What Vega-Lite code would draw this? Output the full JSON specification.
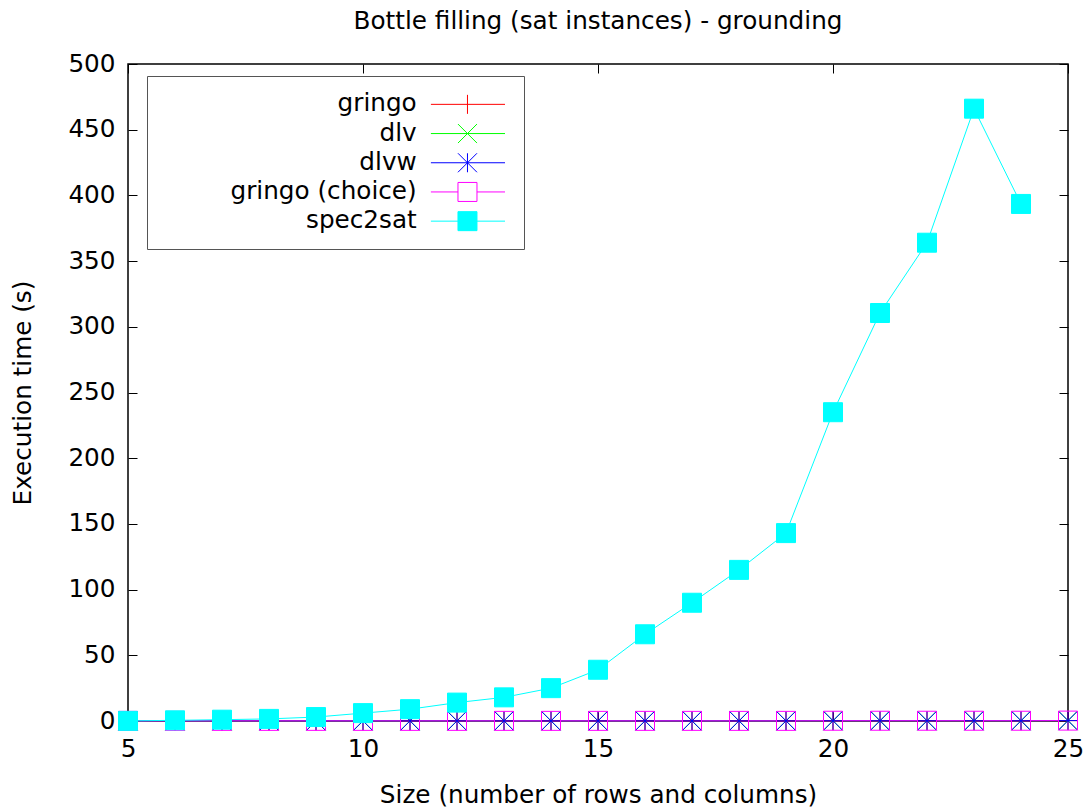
{
  "$schema": "https://vega.github.io/schema/vega-lite/v6.json",
  "autosize": "none",
  "width": 940,
  "height": 657,
  "padding": {"left": 128, "top": 64, "right": 24, "bottom": 90},
  "background": "white",
  "title": {"text": "Bottle filling (sat instances) - grounding", "font": "DejaVu Sans", "fontSize": 24.7, "fontWeight": "normal", "color": "black", "offset": 17, "anchor": "middle"},
  "config": {
    "view": {"stroke": "black", "strokeWidth": 1.5},
    "axis": {"grid": false, "domain": false, "labelFlush": false, "labelFont": "DejaVu Sans", "labelFontSize": 24.7, "labelColor": "black", "titleFont": "DejaVu Sans", "titleFontSize": 24.7, "titleFontWeight": "normal", "titleColor": "black", "tickColor": "black", "tickSize": -9, "tickWidth": 1}
  },
  "resolve": {"axis": {"x": "independent", "y": "independent"}},
  "data": {"values": [
    {"size": 5, "series": "gringo", "time": 0.1}, {"size": 6, "series": "gringo", "time": 0.1}, {"size": 7, "series": "gringo", "time": 0.1}, {"size": 8, "series": "gringo", "time": 0.1}, {"size": 9, "series": "gringo", "time": 0.1}, {"size": 10, "series": "gringo", "time": 0.1}, {"size": 11, "series": "gringo", "time": 0.1}, {"size": 12, "series": "gringo", "time": 0.1}, {"size": 13, "series": "gringo", "time": 0.1}, {"size": 14, "series": "gringo", "time": 0.1}, {"size": 15, "series": "gringo", "time": 0.1}, {"size": 16, "series": "gringo", "time": 0.1}, {"size": 17, "series": "gringo", "time": 0.1}, {"size": 18, "series": "gringo", "time": 0.1}, {"size": 19, "series": "gringo", "time": 0.1}, {"size": 20, "series": "gringo", "time": 0.2}, {"size": 21, "series": "gringo", "time": 0.2}, {"size": 22, "series": "gringo", "time": 0.2}, {"size": 23, "series": "gringo", "time": 0.2}, {"size": 24, "series": "gringo", "time": 0.2}, {"size": 25, "series": "gringo", "time": 0.3},
    {"size": 5, "series": "dlv", "time": 0.1}, {"size": 6, "series": "dlv", "time": 0.1}, {"size": 7, "series": "dlv", "time": 0.1}, {"size": 8, "series": "dlv", "time": 0.1}, {"size": 9, "series": "dlv", "time": 0.1}, {"size": 10, "series": "dlv", "time": 0.1}, {"size": 11, "series": "dlv", "time": 0.1}, {"size": 12, "series": "dlv", "time": 0.1}, {"size": 13, "series": "dlv", "time": 0.1}, {"size": 14, "series": "dlv", "time": 0.1}, {"size": 15, "series": "dlv", "time": 0.1}, {"size": 16, "series": "dlv", "time": 0.1}, {"size": 17, "series": "dlv", "time": 0.1}, {"size": 18, "series": "dlv", "time": 0.1}, {"size": 19, "series": "dlv", "time": 0.1}, {"size": 20, "series": "dlv", "time": 0.2}, {"size": 21, "series": "dlv", "time": 0.2}, {"size": 22, "series": "dlv", "time": 0.2}, {"size": 23, "series": "dlv", "time": 0.2}, {"size": 24, "series": "dlv", "time": 0.2}, {"size": 25, "series": "dlv", "time": 0.3},
    {"size": 5, "series": "dlvw", "time": 0.1}, {"size": 6, "series": "dlvw", "time": 0.1}, {"size": 7, "series": "dlvw", "time": 0.1}, {"size": 8, "series": "dlvw", "time": 0.1}, {"size": 9, "series": "dlvw", "time": 0.1}, {"size": 10, "series": "dlvw", "time": 0.1}, {"size": 11, "series": "dlvw", "time": 0.1}, {"size": 12, "series": "dlvw", "time": 0.1}, {"size": 13, "series": "dlvw", "time": 0.1}, {"size": 14, "series": "dlvw", "time": 0.1}, {"size": 15, "series": "dlvw", "time": 0.1}, {"size": 16, "series": "dlvw", "time": 0.1}, {"size": 17, "series": "dlvw", "time": 0.1}, {"size": 18, "series": "dlvw", "time": 0.1}, {"size": 19, "series": "dlvw", "time": 0.1}, {"size": 20, "series": "dlvw", "time": 0.2}, {"size": 21, "series": "dlvw", "time": 0.2}, {"size": 22, "series": "dlvw", "time": 0.2}, {"size": 23, "series": "dlvw", "time": 0.2}, {"size": 24, "series": "dlvw", "time": 0.2}, {"size": 25, "series": "dlvw", "time": 0.3},
    {"size": 5, "series": "gringo (choice)", "time": 0.1}, {"size": 6, "series": "gringo (choice)", "time": 0.1}, {"size": 7, "series": "gringo (choice)", "time": 0.1}, {"size": 8, "series": "gringo (choice)", "time": 0.1}, {"size": 9, "series": "gringo (choice)", "time": 0.1}, {"size": 10, "series": "gringo (choice)", "time": 0.1}, {"size": 11, "series": "gringo (choice)", "time": 0.1}, {"size": 12, "series": "gringo (choice)", "time": 0.1}, {"size": 13, "series": "gringo (choice)", "time": 0.1}, {"size": 14, "series": "gringo (choice)", "time": 0.1}, {"size": 15, "series": "gringo (choice)", "time": 0.1}, {"size": 16, "series": "gringo (choice)", "time": 0.1}, {"size": 17, "series": "gringo (choice)", "time": 0.1}, {"size": 18, "series": "gringo (choice)", "time": 0.1}, {"size": 19, "series": "gringo (choice)", "time": 0.1}, {"size": 20, "series": "gringo (choice)", "time": 0.2}, {"size": 21, "series": "gringo (choice)", "time": 0.2}, {"size": 22, "series": "gringo (choice)", "time": 0.2}, {"size": 23, "series": "gringo (choice)", "time": 0.2}, {"size": 24, "series": "gringo (choice)", "time": 0.2}, {"size": 25, "series": "gringo (choice)", "time": 0.3},
    {"size": 5, "series": "spec2sat", "time": 0.1}, {"size": 6, "series": "spec2sat", "time": 0.5}, {"size": 7, "series": "spec2sat", "time": 1}, {"size": 8, "series": "spec2sat", "time": 1.6}, {"size": 9, "series": "spec2sat", "time": 3}, {"size": 10, "series": "spec2sat", "time": 6}, {"size": 11, "series": "spec2sat", "time": 9}, {"size": 12, "series": "spec2sat", "time": 14}, {"size": 13, "series": "spec2sat", "time": 18}, {"size": 14, "series": "spec2sat", "time": 25}, {"size": 15, "series": "spec2sat", "time": 39}, {"size": 16, "series": "spec2sat", "time": 66}, {"size": 17, "series": "spec2sat", "time": 90}, {"size": 18, "series": "spec2sat", "time": 115}, {"size": 19, "series": "spec2sat", "time": 143}, {"size": 20, "series": "spec2sat", "time": 235}, {"size": 21, "series": "spec2sat", "time": 310.5}, {"size": 22, "series": "spec2sat", "time": 364}, {"size": 23, "series": "spec2sat", "time": 466}, {"size": 24, "series": "spec2sat", "time": 393.5}
  ]},
  "layer": [
    {
      "mark": {"type": "line", "strokeWidth": 1},
      "encoding": {
        "x": {"field": "size", "type": "quantitative", "scale": {"domain": [5, 25], "nice": false, "zero": false}, "axis": {"orient": "bottom", "values": [5, 10, 15, 20, 25], "title": "Size (number of rows and columns)", "labelPadding": 24, "titlePadding": 22}},
        "y": {"field": "time", "type": "quantitative", "scale": {"domain": [0, 500], "nice": false}, "axis": {"orient": "left", "values": [0, 50, 100, 150, 200, 250, 300, 350, 400, 450, 500], "title": "Execution time (s)", "labelPadding": 22, "titlePadding": 32}},
        "color": {"field": "series", "type": "nominal", "scale": {"domain": ["gringo", "dlv", "dlvw", "gringo (choice)", "spec2sat"], "range": ["#ff0000", "#00ff00", "#0000ff", "#ff00ff", "#00ffff"]},
          "legend": {
            "title": null, "orient": "none", "legendX": 19, "legendY": 12, "padding": 16, "strokeColor": "#555555",
            "labelFont": "DejaVu Sans", "labelFontSize": 24.7, "labelColor": "black", "labelAlign": "right", "labelOffset": 229, "labelLimit": 400,
            "symbolSize": 361, "rowPadding": 3.2,
            "encode": {"symbols": {"update": {
              "shape": {"signal": "datum.value === 'gringo' ? 'M-1.05,0L-1.05,0M26.9,0L34.7,0M30.75,-1L30.75,1' : datum.value === 'dlv' ? 'M-1.05,0L-1.05,0M26.9,0L34.7,0M29.75,-1L31.75,1M29.75,1L31.75,-1' : datum.value === 'dlvw' ? 'M-1.05,0L-1.05,0M26.9,0L34.7,0M30.75,-1L30.75,1M29.75,-1L31.75,1M29.75,1L31.75,-1' : 'M-1.05,0L-1.05,0M26.9,0L29.75,0M31.75,0L34.7,0M29.75,-1L31.75,-1L31.75,1L29.75,1Z'"},
              "fill": {"signal": "datum.value === 'spec2sat' ? '#00ffff' : 'transparent'"},
              "strokeWidth": {"value": 1},
              "opacity": {"value": 1}
            }}}
          }}
      }
    },
    {
      "mark": {"type": "point", "filled": false, "opacity": 1, "strokeWidth": 1, "size": 361},
      "encoding": {
        "x": {"field": "size", "type": "quantitative", "axis": null},
        "y": {"field": "time", "type": "quantitative", "axis": null},
        "color": {"field": "series", "type": "nominal", "legend": null},
        "shape": {"field": "series", "type": "nominal", "scale": {"domain": ["spec2sat", "gringo", "dlv", "dlvw", "gringo (choice)"], "range": ["square", "M-1,0L1,0M0,-1L0,1", "M-1,-1L1,1M-1,1L1,-1", "M-1,0L1,0M0,-1L0,1M-1,-1L1,1M-1,1L1,-1", "square"]}, "legend": null},
        "fill": {"field": "series", "type": "nominal", "scale": {"domain": ["dlv", "spec2sat", "gringo", "dlvw", "gringo (choice)"], "range": ["transparent", "#00ffff", "transparent", "transparent", "transparent"]}, "legend": null}
      }
    },
    {
      "mark": {"type": "point", "opacity": 0},
      "encoding": {
        "x": {"field": "size", "type": "quantitative", "axis": {"orient": "top", "values": [5, 10, 15, 20, 25], "labels": false, "title": null, "tickSize": -9}},
        "y": {"field": "time", "type": "quantitative", "axis": {"orient": "right", "values": [0, 50, 100, 150, 200, 250, 300, 350, 400, 450, 500], "labels": false, "title": null, "tickSize": -9}}
      }
    }
  ]
}
